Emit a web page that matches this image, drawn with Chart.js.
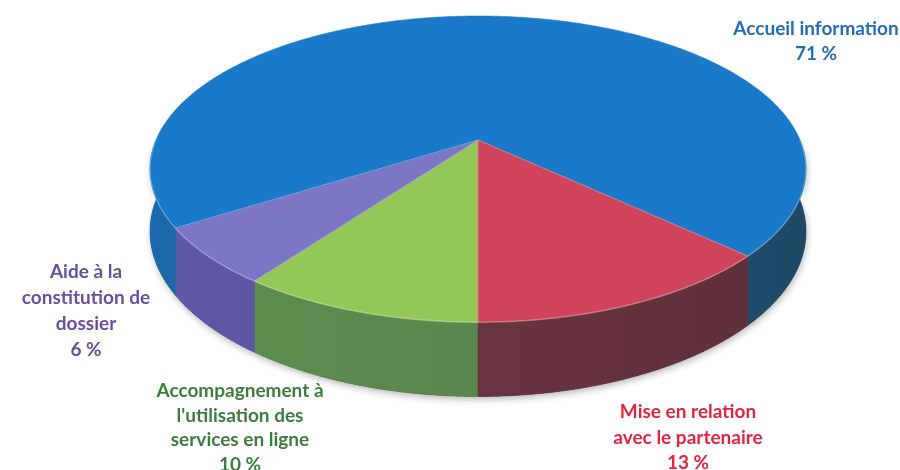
<!DOCTYPE html>
<html>
<head>
<meta charset="utf-8">
<script src="https://cdn.jsdelivr.net/npm/chart.js@4.4.1/dist/chart.umd.min.js"></script>
<style>
  html, body { margin: 0; padding: 0; background: #ffffff; }
  canvas { display: block; }
</style>
</head>
<body>
<canvas id="chart" width="900" height="470"></canvas>
<script>
// Categories in drawing order (clockwise from the front of the pie)
const categories = [
  "Accompagnement à l'utilisation des services en ligne",
  "Aide à la constitution de dossier",
  "Accueil information",
  "Mise en relation avec le partenaire"
];
// Share of each category, in %
const shares = [10, 6, 71, 13];
// Wrapped label text for each category
const labelLines = [
  ["Accompagnement à", "l'utilisation des", "services en ligne"],
  ["Aide à la", "constitution de", "dossier"],
  ["Accueil information"],
  ["Mise en relation", "avec le partenaire"]
];

// ---- styling ----
const topColors  = ['#95c758', '#7b77c4', '#1b79c9', '#d0445b'];
const sideLight  = ['#5f8f50', '#5f58a6', '#1b69ad', '#74394a'];
const sideDark   = ['#547e49', '#554e98', '#1f4865', '#5e2f38'];
const textColors = ['#3b7d3c', '#6a4f9f', '#236db8', '#e6243f'];
// label anchors (centre x, first line y) and line spacing
const labelAnchors = [
  { x: 240, y: 391, lh: 24.6 },
  { x: 86,  y: 272, lh: 26 },
  { x: 816, y: 29,  lh: 25 },
  { x: 688, y: 412, lh: 25.5 }
];

// perspective of the tilted disc, relative to the arc radius
const SX = 2.30;      // horizontal stretch
const SY = 1.054;     // vertical stretch
const PERSP = 0.19;   // front-to-back perspective
const DEPTH = 0.43;   // wall thickness

function proj(arc, theta, drop) {
  const R = arc.outerRadius;
  const u = Math.cos(theta), v = Math.sin(theta);
  const w = 1 - PERSP * v;
  return {
    x: arc.x + SX * R * u / w,
    y: arc.y + (SY * R * v + drop * DEPTH * R) / w
  };
}

function steps(a0, a1) { return Math.max(2, Math.ceil(Math.abs(a1 - a0) / 0.008)); }

function wallPath(ctx, arc, a0, a1) {
  ctx.beginPath();
  const n = steps(a0, a1);
  for (let i = 0; i <= n; i++) {
    const p = proj(arc, a0 + (a1 - a0) * i / n, 0);
    i ? ctx.lineTo(p.x, p.y) : ctx.moveTo(p.x, p.y);
  }
  for (let i = n; i >= 0; i--) {
    const p = proj(arc, a0 + (a1 - a0) * i / n, 1);
    ctx.lineTo(p.x, p.y);
  }
  ctx.closePath();
}

function topPath(ctx, arc, a0, a1) {
  ctx.beginPath();
  ctx.moveTo(arc.x, arc.y);
  const n = steps(a0, a1);
  for (let i = 0; i <= n; i++) {
    const p = proj(arc, a0 + (a1 - a0) * i / n, 0);
    ctx.lineTo(p.x, p.y);
  }
  ctx.closePath();
}

const pie3d = {
  id: 'pie3d',
  beforeDatasetsDraw(chart) {
    const ctx = chart.ctx;
    const arcs = chart.getDatasetMeta(0).data;
    const ref = arcs[0];
    const R = ref.outerRadius;
    const left = ref.x - SX * R * 1.03, right = ref.x + SX * R * 1.03;

    ctx.save();
    // soft shadow under the whole disc
    ctx.save();
    ctx.shadowColor = 'rgba(0,0,0,0.28)';
    ctx.shadowBlur = 7;
    ctx.shadowOffsetX = 1;
    ctx.shadowOffsetY = 3;
    ctx.fillStyle = '#3a3a3a';
    wallPath(ctx, ref, 0, Math.PI);
    ctx.fill();
    ctx.restore();

    // side walls (front half only)
    arcs.forEach((arc, i) => {
      const s = arc.startAngle, e = arc.endAngle;
      const g = ctx.createLinearGradient(left, 0, right, 0);
      g.addColorStop(0, sideLight[i]);
      g.addColorStop(1, sideDark[i]);
      for (let k = -1; k <= 2; k++) {
        const lo = Math.max(s, 2 * Math.PI * k);
        const hi = Math.min(e, 2 * Math.PI * k + Math.PI);
        if (hi > lo) {
          ctx.fillStyle = g;
          wallPath(ctx, arc, lo, hi);
          ctx.fill();
          ctx.strokeStyle = g;
          ctx.lineWidth = 0.6;
          ctx.stroke();
        }
      }
    });

    // top faces
    arcs.forEach((arc, i) => {
      topPath(ctx, arc, arc.startAngle, arc.endAngle);
      ctx.fillStyle = topColors[i];
      ctx.fill();
      ctx.strokeStyle = topColors[i];
      ctx.lineWidth = 0.6;
      ctx.stroke();
    });

    // light bevel along the front rim and the slice edges
    ctx.beginPath();
    const n = steps(0, Math.PI);
    for (let i = 0; i <= n; i++) {
      const p = proj(ref, Math.PI * i / n, 0);
      i ? ctx.lineTo(p.x, p.y) : ctx.moveTo(p.x, p.y);
    }
    ctx.strokeStyle = 'rgba(255,255,255,0.28)';
    ctx.lineWidth = 1.5;
    ctx.stroke();
    arcs.forEach(arc => {
      const p = proj(arc, arc.startAngle, 0);
      ctx.beginPath();
      ctx.moveTo(arc.x, arc.y);
      ctx.lineTo(p.x, p.y);
      ctx.strokeStyle = 'rgba(255,255,255,0.25)';
      ctx.lineWidth = 1;
      ctx.stroke();
    });
    ctx.restore();
    return false;
  },
  afterDraw(chart) {
    const ctx = chart.ctx;
    const values = chart.data.datasets[0].data;
    ctx.save();
    ctx.font = 'bold 19px Lato, "Open Sans", sans-serif';
    ctx.textAlign = 'center';
    ctx.textBaseline = 'middle';
    labelLines.forEach((lines, i) => {
      const a = labelAnchors[i];
      const all = lines.concat([values[i] + ' %']);
      ctx.fillStyle = textColors[i];
      all.forEach((t, j) => ctx.fillText(t, a.x, a.y + j * a.lh));
    });
    ctx.restore();
  }
};

new Chart(document.getElementById('chart'), {
  type: 'pie',
  data: {
    labels: categories,
    datasets: [{
      data: shares,
      backgroundColor: topColors,
      borderWidth: 0
    }]
  },
  options: {
    responsive: false,
    animation: false,
    rotation: 180,
    layout: { padding: { left: 56, right: 0, top: 0, bottom: 190 } },
    plugins: {
      legend: { display: false },
      tooltip: { enabled: false }
    },
    events: []
  },
  plugins: [pie3d]
});
</script>
</body>
</html>
